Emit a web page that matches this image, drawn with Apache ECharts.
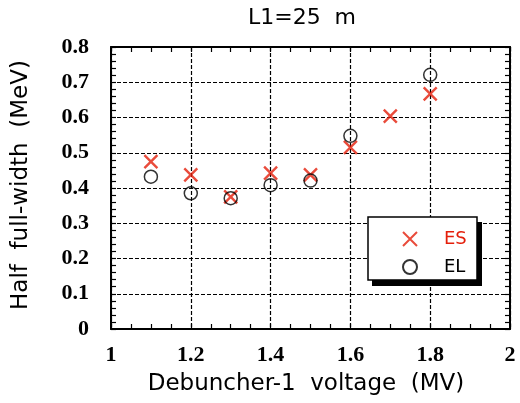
<!DOCTYPE html>
<html>
<head>
<meta charset="utf-8">
<script src="https://cdn.jsdelivr.net/npm/echarts@6/dist/echarts.min.js"></script>
<style>
  html, body { margin: 0; padding: 0; background: #fff; }
  #chart { width: 520px; height: 403px; }
</style>
</head>
<body>
<div id="chart"></div>
<script>
// Debuncher-1 voltage (MV) for each measurement
const esVoltage = [1.1, 1.2, 1.3, 1.4, 1.5, 1.6, 1.7, 1.8];
const esHalfWidth = [0.475, 0.437, 0.375, 0.442, 0.437, 0.515, 0.604, 0.667];
const elVoltage = [1.1, 1.2, 1.3, 1.4, 1.5, 1.6, 1.8];
const elHalfWidth = [0.432, 0.385, 0.371, 0.408, 0.421, 0.548, 0.721];

const xTicks = [1, 1.2, 1.4, 1.6, 1.8, 2];
const yTicks = [0, 0.1, 0.2, 0.3, 0.4, 0.5, 0.6, 0.7, 0.8];

const RED = '#e41e0a';
const SANS = '"DejaVu Sans", Verdana, sans-serif';
const SERIF = '"Liberation Serif", "Times New Roman", serif';

const pairs = (xs, ys) => xs.map((x, i) => [x, ys[i]]);

const frameLine = { show: true, onZero: false, lineStyle: { color: '#000', width: 2 } };
const tick = { show: true, inside: true, length: 5, lineStyle: { color: '#000', width: 1.2 } };
const dashed = { show: true, lineStyle: { color: '#000', width: 1.2, type: [4, 2] } };
const minorX = { show: true, splitNumber: 4, length: 5, lineStyle: { color: '#000', width: 1.2 } };
const minorY = { show: true, splitNumber: 5, length: 5, lineStyle: { color: '#000', width: 1.2 } };
const tickLabel = {
  color: '#000', fontFamily: SERIF, fontSize: 22, fontWeight: 'bold',
  formatter: v => String(+v.toFixed(1))
};

const chart = echarts.init(document.getElementById('chart'), null, { renderer: 'canvas' });

chart.setOption({
  animation: false,
  backgroundColor: '#fff',
  title: {
    text: 'L1=25  m',
    left: 302,
    top: 7,
    padding: 0,
    textAlign: 'center',
    textStyle: { fontFamily: SANS, fontSize: 22, fontWeight: 'normal', color: '#000' }
  },
  grid: { left: 111, right: 10, top: 47, bottom: 74, containLabel: false, outerBoundsMode: 'none' },
  xAxis: [
    {
      type: 'value', min: xTicks[0], max: xTicks[xTicks.length - 1], interval: 0.2,
      position: 'bottom',
      axisLine: frameLine, axisTick: tick, minorTick: minorX,
      splitLine: dashed,
      axisLabel: Object.assign({ margin: 15 }, tickLabel),
      name: 'Debuncher-1  voltage  (MV)',
      nameLocation: 'middle', nameGap: 44,
      nameTextStyle: { fontFamily: SANS, fontSize: 23, color: '#000', padding: [0, 9, 0, 0] }
    },
    {
      type: 'value', min: xTicks[0], max: xTicks[xTicks.length - 1], interval: 0.2,
      position: 'top',
      axisLine: frameLine, axisTick: tick, minorTick: minorX,
      splitLine: { show: false }, axisLabel: { show: false }
    }
  ],
  yAxis: [
    {
      type: 'value', min: yTicks[0], max: yTicks[yTicks.length - 1], interval: 0.1,
      position: 'left',
      axisLine: frameLine, axisTick: tick, minorTick: minorY,
      splitLine: dashed,
      axisLabel: Object.assign({ margin: 22 }, tickLabel),
      name: 'Half  full-width  (MeV)',
      nameLocation: 'middle', nameGap: 78, nameRotate: 90,
      nameTextStyle: { fontFamily: SANS, fontSize: 23, color: '#000', padding: [0, 0, 0, 6] }
    },
    {
      type: 'value', min: yTicks[0], max: yTicks[yTicks.length - 1], interval: 0.1,
      position: 'right',
      axisLine: frameLine, axisTick: tick, minorTick: minorY,
      splitLine: { show: false }, axisLabel: { show: false }
    }
  ],
  legend: {
    orient: 'vertical',
    left: 402, top: 230,
    padding: 0,
    itemWidth: 14, itemHeight: 14, itemGap: 10,
    z: 20,
    data: [
      { name: 'ES', textStyle: { color: RED } },
      { name: 'EL', textStyle: { color: '#000' } }
    ],
    textStyle: { fontFamily: SANS, fontSize: 18, padding: [0, 0, 0, 22] }
  },
  graphic: [
    { type: 'rect', z: 10, shape: { x: 372, y: 222, width: 110, height: 64 }, style: { fill: '#000' } },
    { type: 'rect', z: 11, shape: { x: 368, y: 217, width: 109, height: 63 },
      style: { fill: '#fff', stroke: '#000', lineWidth: 1.5 } }
  ],
  series: [
    {
      name: 'ES', type: 'scatter', xAxisIndex: 0, yAxisIndex: 0,
      symbol: 'path://M0,0L10,10M0,10L10,0',
      symbolSize: 13,
      itemStyle: { color: 'rgba(0,0,0,0)', borderColor: RED, borderWidth: 2.4 },
      data: pairs(esVoltage, esHalfWidth)
    },
    {
      name: 'EL', type: 'scatter', xAxisIndex: 0, yAxisIndex: 0,
      symbol: 'circle',
      symbolSize: 13,
      itemStyle: { color: 'rgba(0,0,0,0)', borderColor: '#000', borderWidth: 1.5 },
      data: pairs(elVoltage, elHalfWidth)
    }
  ]
});
</script>
</body>
</html>
